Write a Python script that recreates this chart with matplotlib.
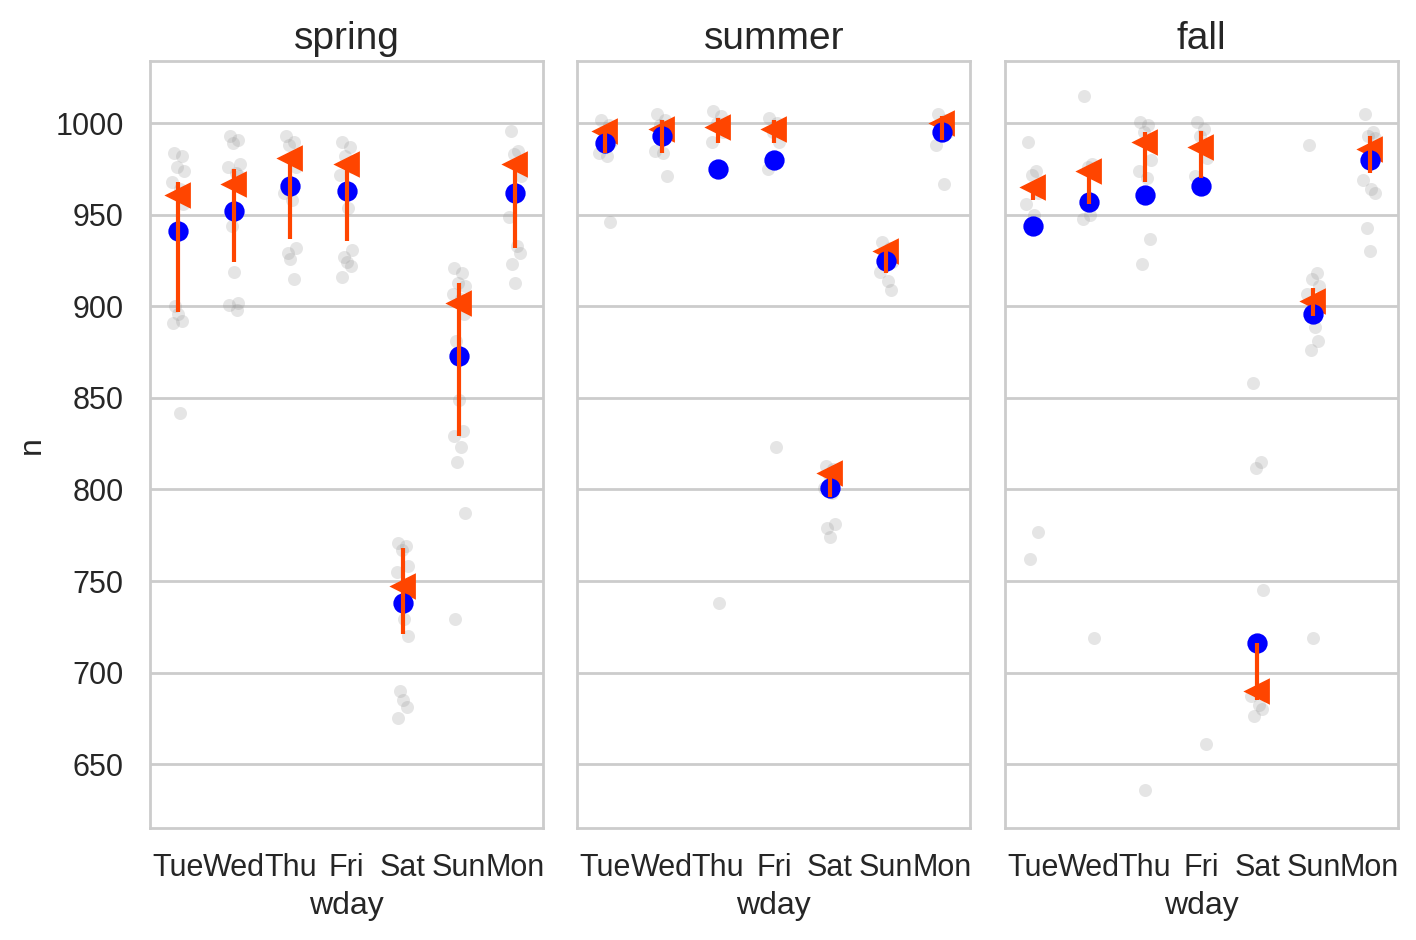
import numpy as np
import matplotlib
matplotlib.use('Agg')
import matplotlib.pyplot as plt

days = ['Tue', 'Wed', 'Thu', 'Fri', 'Sat', 'Sun', 'Mon']
seasons = ['spring', 'summer', 'fall']

# gray points: observed daily counts, one list per weekday
spring_obs = [
    [984, 982, 976, 974, 968, 964, 956, 900, 896, 892, 891, 842],
    [993, 991, 989, 978, 976, 973, 971, 944, 919, 902, 901, 898],
    [993, 990, 988, 976, 962, 958, 932, 929, 926, 915],
    [990, 987, 982, 976, 972, 954, 931, 927, 924, 922, 916],
    [771, 769, 767, 758, 755, 729, 720, 690, 685, 681, 675],
    [921, 918, 913, 911, 907, 904, 896, 881, 849, 832, 829, 823, 815, 787, 729],
    [996, 985, 983, 971, 949, 933, 929, 923, 913],
]
summer_obs = [
    [1002, 999, 992, 990, 984, 982, 946],
    [1005, 1002, 999, 995, 985, 984, 971],
    [1007, 1004, 1000, 995, 990, 738],
    [1003, 1000, 995, 990, 975, 823],
    [813, 811, 808, 805, 801, 798, 781, 779, 774],
    [935, 932, 928, 924, 919, 914, 909],
    [1005, 1002, 998, 995, 988, 967],
]
fall_obs = [
    [990, 974, 972, 962, 956, 950, 777, 762],
    [1015, 978, 976, 975, 948, 950, 719],
    [1001, 999, 995, 980, 974, 970, 937, 923, 636],
    [1001, 997, 993, 981, 971, 964, 661],
    [858, 815, 812, 745, 687, 682, 680, 676],
    [988, 918, 915, 911, 907, 889, 881, 876, 719],
    [1005, 995, 993, 992, 969, 964, 962, 943, 930],
]

# blue dots (mean) and orange triangles (median)
spring_mean = [941, 952, 966, 963, 738, 873, 962]
summer_mean = [989, 993, 975, 980, 801, 925, 995]
fall_mean = [944, 957, 961, 966, 716, 896, 980]

spring_median = [961, 967, 981, 978, 747, 902, 978]
summer_median = [996, 997, 998, 997, 809, 930, 1000]
fall_median = [965, 974, 990, 987, 690, 903, 986]

# orange vertical segments (low, high)
spring_lo = [897, 924, 937, 936, 721, 829, 932]
spring_hi = [968, 975, 981, 978, 768, 913, 980]
summer_lo = [984, 984, 989, 989, 796, 918, 991]
summer_hi = [996, 1002, 1003, 1002, 812, 930, 1004]
fall_lo = [958, 956, 968, 970, 685, 895, 973]
fall_hi = [965, 974, 995, 996, 716, 910, 993]

obs = [spring_obs, summer_obs, fall_obs]
means = [spring_mean, summer_mean, fall_mean]
medians = [spring_median, summer_median, fall_median]
los = [spring_lo, summer_lo, fall_lo]
his = [spring_hi, summer_hi, fall_hi]

plt.rcParams['font.family'] = ['Liberation Sans', 'DejaVu Sans']
fig, axes = plt.subplots(1, 3, figsize=(7.08, 4.7), dpi=200, sharey=True)
fig.subplots_adjust(left=0.106, right=0.987, top=0.935, bottom=0.119, wspace=0.087)

jit = np.array([-0.08, 0.06, -0.02, 0.1, -0.11, 0.03, 0.09, -0.05, 0.0, 0.07, -0.09, 0.04, -0.03, 0.11, -0.07])
xpos = np.arange(len(days))

for ax, name, ob, mn, md, lo, hi in zip(axes, seasons, obs, means, medians, los, his):
    for i, vals in enumerate(ob):
        xs = xpos[i] + jit[:len(vals)]
        ax.scatter(xs, vals, s=22, color='#999999', alpha=0.25, linewidths=0, zorder=2)
    ax.plot(xpos, md, linestyle='none', marker='<', markersize=8, color='#FF4500', zorder=3)
    ax.plot(xpos, mn, linestyle='none', marker='o', markersize=6.3, color='#0000FF', zorder=4)
    ax.vlines(xpos, lo, hi, color='#FF4500', linewidth=1.5, zorder=5)

    ax.set_title(name, fontsize=14, color='#262626', pad=4.5)
    ax.set_xlim(-0.5, 6.5)
    ax.set_ylim(615, 1034)
    ax.set_xticks(xpos)
    ax.set_xticklabels(days)
    ax.set_yticks(np.arange(650, 1001, 50))
    ax.grid(axis='y', color='#cccccc', linewidth=1.0)
    ax.set_axisbelow(True)
    ax.tick_params(axis='x', length=0, labelsize=11, colors='#262626', pad=9)
    ax.tick_params(axis='y', length=0, labelsize=11, colors='#262626', pad=9.5)
    for sp in ax.spines.values():
        sp.set_color('#cccccc')
        sp.set_linewidth(1.0)
    ax.set_xlabel('wday', fontsize=11.5, color='#262626', labelpad=3)

axes[0].set_ylabel('n', fontsize=11.5, color='#262626', labelpad=3)

fig.savefig('out.png', dpi=200, facecolor='white')
